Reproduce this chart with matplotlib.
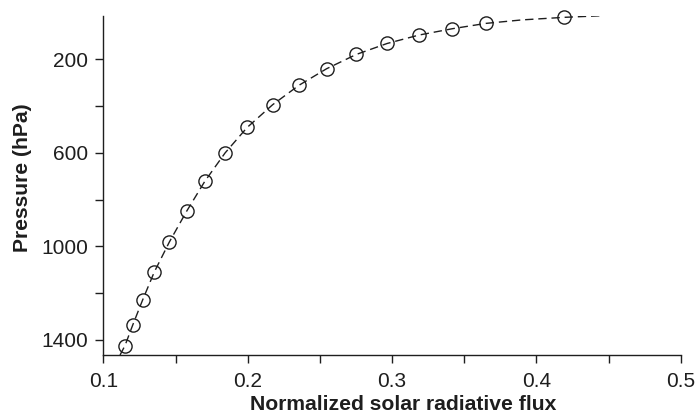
import numpy as np
import matplotlib
matplotlib.use("Agg")
import matplotlib.pyplot as plt
from matplotlib.ticker import MultipleLocator, FixedLocator

plt.rcParams['font.family'] = ['Liberation Sans', 'DejaVu Sans']

# observed points (flux, pressure)
flux = [0.1149, 0.1202, 0.1271, 0.1352, 0.1456, 0.1576, 0.1703, 0.1843, 0.1996,
        0.2172, 0.2354, 0.2546, 0.2751, 0.2965, 0.3185, 0.3415, 0.3649, 0.4194]
pressure = [1425, 1338, 1230, 1110, 982, 850, 721, 600, 491,
            394, 311, 240, 179, 132, 96, 69, 46, 20]

# dashed fit curve
curve_flux = [0.1115, 0.1149, 0.1202, 0.1271, 0.1352, 0.1456, 0.1576, 0.1703, 0.1843,
              0.1996, 0.2172, 0.2354, 0.2546, 0.2751, 0.2965, 0.3185, 0.3415, 0.3649,
              0.3900, 0.4194, 0.4460]
curve_pressure = [1465, 1425, 1338, 1230, 1110, 982, 850, 721, 600,
                  491, 394, 311, 240, 179, 132, 96, 69, 46,
                  31, 20, 13]

ink = '#1e1e1e'

fig = plt.figure(figsize=(6.99, 4.16), dpi=100)
ax = fig.add_axes([0.148, 0.1466, 0.826, 0.8157])

ax.plot(curve_flux, curve_pressure, color=ink, lw=1.0, dashes=(6, 3.5))
ax.plot(flux, pressure, 'o', mfc='none', mec=ink, mew=1.0, ms=9.5, clip_on=False)

ax.set_xlim(0.1, 0.5)
ax.set_ylim(1465, 13)

ax.xaxis.set_major_locator(MultipleLocator(0.1))
ax.xaxis.set_minor_locator(MultipleLocator(0.05))
ax.yaxis.set_major_locator(FixedLocator([200, 600, 1000, 1400]))
ax.yaxis.set_minor_locator(FixedLocator([400, 800, 1200]))
ax.xaxis.set_major_formatter(plt.FuncFormatter(lambda v, p: f'{v:.1f}'))

for s in ['top', 'right']:
    ax.spines[s].set_visible(False)
for s in ['left', 'bottom']:
    ax.spines[s].set_color(ink)
    ax.spines[s].set_linewidth(1.0)

ax.tick_params(which='both', direction='out', length=6, width=1.0, color=ink,
               labelcolor=ink, labelsize=15)
ax.tick_params(axis='x', pad=6)
ax.tick_params(axis='y', pad=5)

ax.set_xlabel('Normalized solar radiative flux', fontsize=15.2, fontweight='bold',
              color=ink, labelpad=3)
ax.set_ylabel('Pressure (hPa)', fontsize=15.2, fontweight='bold', color=ink, labelpad=7)
ax.xaxis.label.set_x(0.52)
ax.yaxis.label.set_y(0.522)

fig.savefig('out.png', dpi=100)
